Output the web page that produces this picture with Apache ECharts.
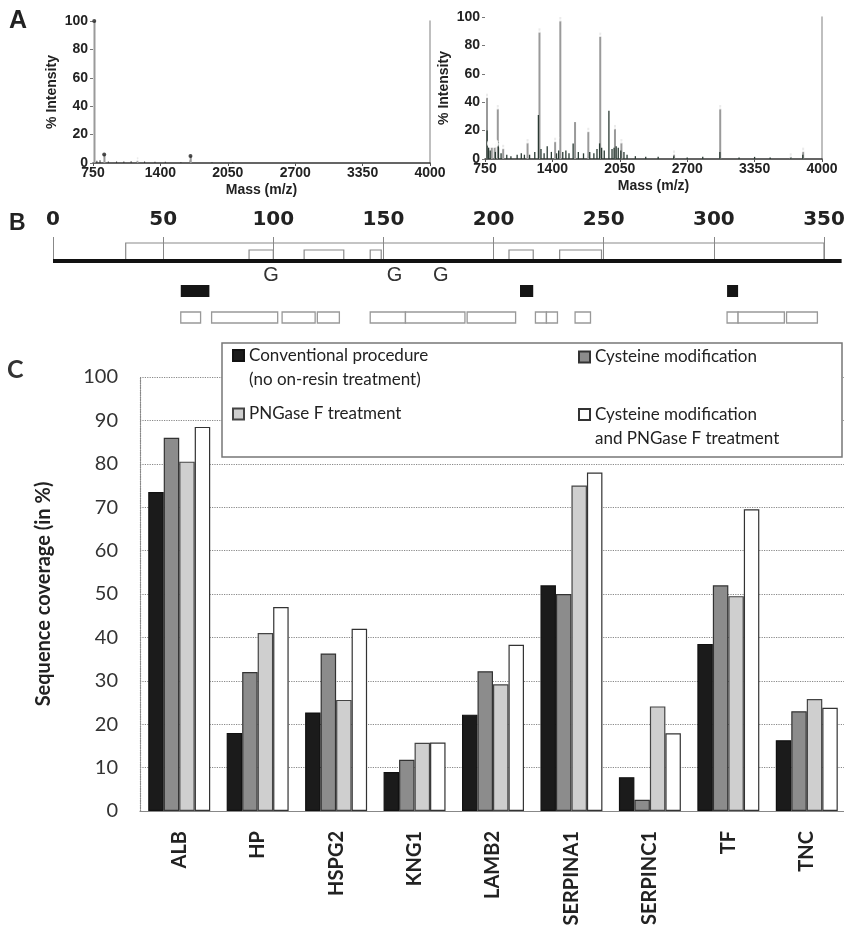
<!DOCTYPE html>
<html>
<head>
<meta charset="utf-8">
<script src="https://cdn.jsdelivr.net/npm/echarts@6/dist/echarts.min.js"></script>
<style>
  html, body { margin: 0; padding: 0; background: #fff; }
  #chart { width: 844px; height: 927px; }
</style>
</head>
<body>
<div id="chart"></div>
<script>
// ---- panel A: spectra, [mass, % intensity] ----
var massTicks = [750, 1400, 2050, 2700, 3350, 4000];
var leftMarked = [[762, 100], [858, 6], [1690, 5]];
var leftCircled = [[1180, 4]];
var leftNoise = [[790, 1.5], [820, 2], [900, 1], [980, 1], [1050, 1], [1120, 1.2], [1180, 2], [1250, 1],
  [1350, 0.8], [1450, 0.8], [1600, 0.6], [1690, 2], [1900, 0.6], [2100, 0.5]];
var rightCircled = [[766, 46], [812, 11], [840, 11], [870, 38], [922, 10], [1157, 14], [1272, 92],
  [1423, 15], [1473, 100], [1743, 22], [1858, 89], [2000, 24], [2062, 14], [2570, 6], [3015, 38],
  [3695, 4], [3815, 8]];
var rightGrey = [[1615, 26]];
var rightPeaks = [[770, 20], [785, 8], [800, 6], [850, 5], [880, 12], [905, 4], [960, 3], [1000, 2],
  [1060, 3], [1100, 4], [1130, 3], [1180, 3], [1230, 5], [1265, 31], [1290, 7], [1320, 4], [1350, 9],
  [1390, 5], [1440, 4], [1460, 6], [1500, 5], [1530, 6], [1560, 4], [1600, 11], [1650, 5], [1700, 4],
  [1760, 5], [1800, 4], [1830, 7], [1855, 11], [1875, 8], [1900, 6], [1945, 34], [1975, 7], [1995, 8],
  [2015, 9], [2035, 8], [2060, 6], [2090, 5], [2120, 3], [2200, 2], [2300, 1.5], [2420, 1.5], [2570, 2],
  [2700, 1], [2850, 1.5], [3015, 5], [3200, 1], [3350, 1.5], [3500, 1], [3700, 1.5], [3815, 3]];

// ---- panel B: sequence map, residue numbers ----
var seqLength = 358;
var outerSpan = [[33, 350]];
var innerSpans = [[89, 100], [114, 132], [144, 149], [207, 218], [230, 249]];
var glycoSites = [99, 155, 176];
var blackPeptides = [[58, 71], [212, 218], [306, 311]];
var openPeptides = [[58, 67], [72, 102], [104, 119], [120, 130], [144, 160], [160, 187], [188, 210],
  [219, 224], [224, 229], [237, 244], [306, 311], [311, 332], [333, 347]];

// ---- panel C: sequence coverage (%) ----
var proteins = ['ALB', 'HP', 'HSPG2', 'KNG1', 'LAMB2', 'SERPINA1', 'SERPINC1', 'TF', 'TNC'];
var nameConv = 'Conventional procedure\n(no on-resin treatment)';
var nameCys = 'Cysteine modification';
var namePng = 'PNGase F treatment';
var nameBoth = 'Cysteine modification\nand PNGase F treatment';
var conventional = [73.5, 18, 22.7, 9, 22.2, 52, 7.8, 38.5, 16.3];
var cysteine = [86, 32, 36.3, 11.8, 32.2, 50, 2.6, 52, 23];
var pngase = [80.5, 41, 25.6, 15.7, 29.2, 75, 24.1, 49.5, 25.8];
var both = [88.5, 47, 42, 15.8, 38.3, 78, 17.9, 69.5, 23.8];

var chart = echarts.init(document.getElementById('chart'), null, { renderer: 'canvas' });

var boldA = { fontFamily: 'Liberation Sans', fontWeight: 'bold', fontSize: 14, color: '#222' };
var TRACK = { outerTop: 6, innerTop: 13, base: 24, g: 38, blackTop: 48, blackBottom: 60, openTop: 75, openBottom: 86 };

function spectrumX(gridIndex) {
  return {
    type: 'value', gridIndex: gridIndex, min: 750, max: 4000,
    name: 'Mass (m/z)', nameLocation: 'middle', nameGap: 20,
    nameTextStyle: { fontFamily: 'Liberation Sans', fontWeight: 'bold', fontSize: 14, color: '#222' },
    axisLine: { lineStyle: { color: '#333', width: 1.5 } },
    axisTick: { show: true, length: 3, customValues: massTicks, lineStyle: { color: '#555' } },
    axisLabel: Object.assign({ customValues: massTicks, margin: 3, formatter: function (v) { return String(v); } }, boldA),
    splitLine: { show: false }
  };
}
function spectrumY(gridIndex) {
  return {
    type: 'value', gridIndex: gridIndex, min: 0, max: 100, interval: 20,
    name: '% Intensity', nameLocation: 'middle', nameGap: 34,
    nameTextStyle: { fontFamily: 'Liberation Sans', fontWeight: 'bold', fontSize: 14, color: '#222' },
    axisLine: { show: false },
    axisTick: { show: true, length: 3, lineStyle: { color: '#777' } },
    axisLabel: Object.assign({ margin: 5 }, boldA),
    splitLine: { show: false }
  };
}
function spectrumFrame(gridIndex) {
  return {
    type: 'value', gridIndex: gridIndex, min: 0, max: 100, position: 'right',
    axisLine: { show: true, lineStyle: { color: '#aaa', width: 1.5 } },
    axisTick: { show: false }, axisLabel: { show: false }, splitLine: { show: false }
  };
}
function stems(name, data, idx, color, width) {
  return {
    name: name, type: 'bar', xAxisIndex: idx, yAxisIndex: idx * 2, data: data,
    barWidth: width, barGap: '-100%', itemStyle: { color: color }, silent: true
  };
}
function tips(name, data, idx, symbol, size, style) {
  return {
    name: name, type: 'scatter', xAxisIndex: idx, yAxisIndex: idx * 2, data: data,
    symbol: symbol, symbolSize: size, itemStyle: style, silent: true, z: 4
  };
}

function openBox(top) {
  return function (params, api) {
    var a = api.coord([api.value(0), TRACK.base]);
    var b = api.coord([api.value(1), top]);
    return {
      type: 'polyline',
      shape: { points: [[a[0], a[1]], [a[0], b[1]], [b[0], b[1]], [b[0], a[1]]] },
      style: { fill: null, stroke: '#8a8a8a', lineWidth: 1.2 }
    };
  };
}
function block(top, bottom, filled) {
  return function (params, api) {
    var a = api.coord([api.value(0), top]);
    var b = api.coord([api.value(1), bottom]);
    return {
      type: 'rect',
      shape: { x: a[0], y: a[1], width: b[0] - a[0], height: b[1] - a[1] },
      style: filled ? { fill: '#151515' } : { fill: '#fff', stroke: '#999', lineWidth: 1.3 }
    };
  };
}
function mapSeries(data, render) {
  return {
    type: 'custom', xAxisIndex: 2, yAxisIndex: 4, data: data, renderItem: render,
    encode: { x: [0, 1] }, silent: true, clip: false
  };
}

function barSeries(name, data, fill, border) {
  return {
    name: name, type: 'bar', xAxisIndex: 3, yAxisIndex: 5, data: data,
    barGap: '0%', barCategoryGap: '21%',
    itemStyle: { color: fill, borderColor: border, borderWidth: 1.2 }
  };
}

var tallIcon = 'path://M0,0h11v11h-11z M0,36';
var midIcon = 'path://M0,12.5h11v11h-11z M0,0 M0,36';
var legendText = { fontFamily: 'Lato', fontSize: 17, color: '#222', lineHeight: 24 };

var option = {
  backgroundColor: '#ffffff',
  animation: false,
  title: [
    { text: 'A', left: 9, top: 9, padding: 0, textStyle: { fontFamily: 'Liberation Sans', fontWeight: 'bold', fontSize: 25, color: '#222' } },
    { text: 'B', left: 9, top: 212, padding: 0, textStyle: { fontFamily: 'Liberation Sans', fontWeight: 'bold', fontSize: 23, color: '#222' } },
    { text: 'C', left: 7, top: 357, padding: 0, textStyle: { fontFamily: 'Lato', fontWeight: 'bold', fontSize: 25, color: '#333' } }
  ],
  grid: [
    { left: 93, top: 21, width: 337, height: 142, outerBoundsMode: 'none' },
    { left: 485, top: 17, width: 337, height: 142, outerBoundsMode: 'none' },
    { left: 53, top: 237, width: 771, height: 100, outerBoundsMode: 'none' },
    { left: 140, top: 377, width: 706, height: 434, outerBoundsMode: 'none' }
  ],
  xAxis: [
    spectrumX(0),
    spectrumX(1),
    {
      type: 'value', gridIndex: 2, min: 0, max: 350, interval: 50, position: 'top',
      axisLine: { show: false },
      axisTick: { show: true, inside: true, length: 24, lineStyle: { color: '#888', width: 1 } },
      axisLabel: { margin: 7, fontFamily: 'DejaVu Sans', fontWeight: 'bold', fontSize: 20, color: '#222' },
      splitLine: { show: false }
    },
    {
      type: 'category', gridIndex: 3, data: proteins,
      axisLine: { lineStyle: { color: '#888', width: 1.2 } },
      axisTick: { show: false },
      axisLabel: { rotate: 90, margin: 20, fontFamily: 'Lato', fontWeight: 'bold', fontSize: 20, color: '#222' }
    }
  ],
  yAxis: [
    spectrumY(0), spectrumFrame(0),
    spectrumY(1), spectrumFrame(1),
    { type: 'value', gridIndex: 2, min: 0, max: 100, inverse: true, show: false },
    {
      type: 'value', gridIndex: 3, min: 0, max: 100, interval: 10,
      name: 'Sequence coverage (in %)', nameLocation: 'middle', nameGap: 86,
      nameTextStyle: { fontFamily: 'Lato', fontWeight: 'bold', fontSize: 20, color: '#222' },
      axisLine: { show: true, lineStyle: { color: '#888', type: 'dotted', width: 1.2 } },
      axisTick: { show: false },
      axisLabel: { margin: 22, fontFamily: 'Lato', fontSize: 20, color: '#333' },
      splitLine: { show: true, lineStyle: { color: '#888', type: 'dotted', width: 1.2 } }
    }
  ],
  legend: [
    {
      left: 232, top: 344, orient: 'vertical', padding: 0, itemGap: 3,
      itemWidth: 11, itemHeight: 36, selectedMode: false, textStyle: legendText,
      data: [{ name: nameConv, icon: tallIcon }, { name: namePng, icon: midIcon }]
    },
    {
      left: 578, top: 338, orient: 'vertical', padding: 0, itemGap: 27,
      itemWidth: 11, itemHeight: 36, selectedMode: false, textStyle: legendText,
      data: [{ name: nameCys, icon: midIcon }, { name: nameBoth, icon: tallIcon }]
    }
  ],
  graphic: [
    {
      type: 'rect', z: 3, silent: true,
      shape: { x: 222, y: 343, width: 620, height: 114 },
      style: { fill: '#fff', stroke: '#777', lineWidth: 1.5 }
    }
  ],
  series: [
    // panel A, left spectrum
    stems('left noise', leftNoise, 0, '#333', 1),
    stems('left marked', leftMarked, 0, '#9a9a9a', 2),
    stems('left circled', leftCircled, 0, '#9a9a9a', 1.5),
    tips('left marks', leftMarked, 0, 'circle', 4, { color: '#222' }),
    tips('left circles', leftCircled, 0, 'emptyCircle', 6, { color: '#fff', borderColor: '#999', borderWidth: 1.2 }),
    // panel A, right spectrum
    stems('right grey', rightCircled.concat(rightGrey), 1, '#9a9a9a', 2),
    stems('right peaks', rightPeaks, 1, '#2a3a33', 1.3),
    tips('right circles', rightCircled, 1, 'emptyCircle', 7, { color: '#fff', borderColor: '#999', borderWidth: 1.3 }),
    // panel B
    mapSeries(outerSpan, openBox(TRACK.outerTop)),
    mapSeries(innerSpans, openBox(TRACK.innerTop)),
    mapSeries([[0, seqLength]], function (params, api) {
      var a = api.coord([api.value(0), TRACK.base]);
      var b = api.coord([api.value(1), TRACK.base]);
      return { type: 'line', shape: { x1: a[0], y1: a[1], x2: b[0], y2: b[1] }, style: { stroke: '#111', lineWidth: 4 } };
    }),
    mapSeries(glycoSites.map(function (v) { return [v, v]; }), function (params, api) {
      var p = api.coord([api.value(0), TRACK.g]);
      return {
        type: 'text',
        style: { text: 'G', x: p[0], y: p[1], align: 'center', verticalAlign: 'middle', font: '20px "Liberation Sans"', fill: '#333' }
      };
    }),
    mapSeries(blackPeptides, block(TRACK.blackTop, TRACK.blackBottom, true)),
    mapSeries(openPeptides, block(TRACK.openTop, TRACK.openBottom, false)),
    // panel C
    barSeries(nameConv, conventional, '#1b1b1b', '#111'),
    barSeries(nameCys, cysteine, '#8c8c8c', '#333'),
    barSeries(namePng, pngase, '#cfcfcf', '#444'),
    barSeries(nameBoth, both, '#ffffff', '#333')
  ]
};

chart.setOption(option);
</script>
</body>
</html>
